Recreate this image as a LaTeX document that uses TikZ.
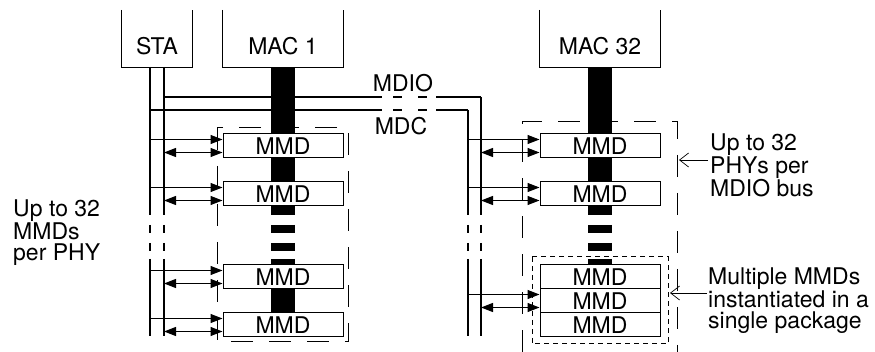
\documentclass[tikz,border=0pt]{standalone}
\usepackage{fontspec}
\setmainfont{TeX Gyre Heros}
\usetikzlibrary{arrows.meta}
\newcommand{\diagfont}{\fontsize{23}{21}\selectfont}

\begin{document}
\begin{tikzpicture}[x=1pt, y=-1pt,
  unitbox/.style={minimum height=42pt, inner sep=0pt, font=\diagfont},
  mmdbox/.style={draw, fill=white, line width=1pt, minimum width=120pt,
    minimum height=24pt, inner sep=0pt, font=\diagfont},
  wire/.style={line width=1.1pt},
  bus/.style={line width=24pt},
  brk/.style={dash pattern=on 8pt off 10pt},
  gapdash/.style={dash pattern=on 0pt off 11pt on 9pt off 16pt on 9pt off 20pt},
  tip/.style={-{Triangle[length=12pt,width=9pt]}},
  both/.style={{Triangle[length=12pt,width=9pt]}-{Triangle[length=12pt,width=9pt]}},
  phybox/.style={line width=1pt, dash pattern=on 22pt off 16pt},
  pkgbox/.style={line width=1pt, dash pattern=on 5pt off 4pt},
  note/.style={font=\diagfont, align=left, anchor=north west, inner sep=0pt},
  notearrow/.style={line width=0.7pt, -{Straight Barb[length=9pt,width=14pt]}}]
  \useasboundingbox (0,0) rectangle (875,352);

  % Cut lines and wire ends
  \coordinate (top) at (0,10);
  \coordinate (cutA) at (0,215);
  \coordinate (cutB) at (0,225);
  \coordinate (cutC) at (0,251);
  \coordinate (cutD) at (0,259);
  \coordinate (busend) at (0,325);
  \coordinate (wireend) at (0,336);
  \coordinate (gapL) at (382,0);
  \coordinate (gapR) at (436,0);
  \coordinate (mdcL) at (150,67);
  \coordinate (mdioL) at (164,67);
  \coordinate (mdcR) at (468,110);
  \coordinate (mdioR) at (481,97);

  % Station and MACs
  \node[unitbox, minimum width=70pt] (sta) at (157,46) {STA};
  \node[unitbox, minimum width=120pt] (mac1) at (283,46) {MAC 1};
  \node[unitbox, minimum width=120pt] (mac32) at (600,46) {MAC 32};
  \foreach \n in {sta,mac1,mac32}
    \draw[wire] (\n.south west |- top) -- (\n.south west)
      -- (\n.south east) -- (\n.south east |- top);

  % PHY outlines
  \draw[phybox] (217,128) rectangle (348,342);
  \draw[phybox] (522,352) |- (677,122) -- (677,352);
  \draw[pkgbox] (532,257) rectangle (668,344);

  % Data paths
  \foreach \n in {mac1,mac32} {
    \draw[bus] (\n.south) -- (\n.south |- cutA);
    \draw[bus, brk] (\n.south |- cutB) -- (\n.south |- cutC);
    \draw[bus] (\n.south |- cutD) -- (\n.south |- busend);
  }

  % MDIO and MDC
  \draw[wire] (mdioL |- mdioR) -- (gapL |- mdioR);
  \draw[wire, gapdash] (gapL |- mdioR) -- (gapR |- mdioR);
  \draw[wire] (gapR |- mdioR) -- (mdioR);
  \draw[wire] (mdcL |- mdcR) -- (gapL |- mdcR);
  \draw[wire, gapdash] (gapL |- mdcR) -- (gapR |- mdcR);
  \draw[wire] (gapR |- mdcR) -- (mdcR);
  \foreach \w in {mdcL,mdioL,mdcR,mdioR} {
    \draw[wire] (\w) -- (\w |- cutA);
    \draw[wire, brk] (\w |- cutB) -- (\w |- cutC);
    \draw[wire] (\w |- cutD) -- (\w |- wireend);
  }
  \node[font=\diagfont] (mdio) at (403,83) {MDIO};
  \node[font=\diagfont] (mdc) at (401,126) {MDC};

  % MMDs
  \node[mmdbox] (l1) at (283,146) {MMD};
  \node[mmdbox] (l2) at (283,194) {MMD};
  \node[mmdbox] (l3) at (283,277) {MMD};
  \node[mmdbox] (l4) at (283,325) {MMD};
  \node[mmdbox] (r1) at (600,146) {MMD};
  \node[mmdbox] (r2) at (600,194) {MMD};
  \node[mmdbox] (r3) at (600,277) {MMD};
  \node[mmdbox] (r4) at (600,301) {MMD};
  \node[mmdbox] (r5) at (600,325) {MMD};
  \foreach \b in {l1,l2,l3,l4} {
    \draw[wire, tip] ([yshift=6.5pt]\b.west -| mdcL) -- ([yshift=6.5pt]\b.west);
    \draw[wire, both] ([yshift=-6.5pt]\b.west -| mdioL) -- ([yshift=-6.5pt]\b.west);
  }
  \foreach \b in {r1,r2,r4} {
    \draw[wire, tip] ([yshift=6.5pt]\b.west -| mdcR) -- ([yshift=6.5pt]\b.west);
    \draw[wire, both] ([yshift=-6.5pt]\b.west -| mdioR) -- ([yshift=-6.5pt]\b.west);
  }

  % Notes
  \node[note] (permmd) at (13,200) {Up to 32\\MMDs\\per PHY};
  \node[note] (perphy) at (710,134) {Up to 32\\PHYs per\\MDIO bus};
  \node[note] (perpkg) at (708,268) {Multiple MMDs\\instantiated in a\\single package};
  \coordinate (phyedge) at (679,160);
  \coordinate (pkgedge) at (670,293);
  \draw[notearrow] ([xshift=-2pt]phyedge -| perphy.west) -- (phyedge);
  \draw[notearrow] ([xshift=-1pt]pkgedge -| perpkg.west) -- (pkgedge);
\end{tikzpicture}
\end{document}
